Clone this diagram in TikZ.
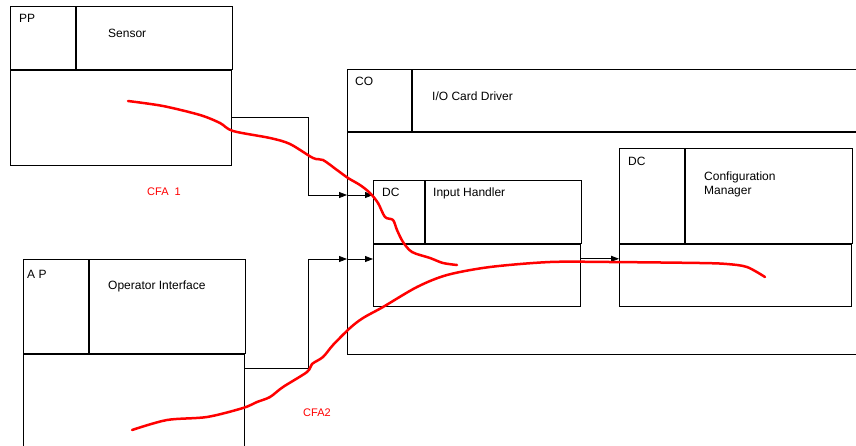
\documentclass[tikz,border=0pt]{standalone}
\usepackage{fontspec}
\setmainfont{Liberation Sans}
\usetikzlibrary{arrows.meta,positioning}

\tikzset{
  cell/.style={draw, line width=0.8pt, inner sep=0pt, anchor=north west},
  tag/.style={anchor=base west, inner sep=0pt, font=\fontsize{12}{14}\selectfont},
  cfa/.style={anchor=base west, inner sep=0pt, text=red, font=\fontsize{11}{13}\selectfont},
  flow/.style={line width=0.8pt, -{Triangle[length=8pt,width=6pt]}},
  trace/.style={red, line width=2.5pt, line cap=round, line join=round}
}

\begin{document}
\begin{tikzpicture}[x=1pt, y=-1pt]
  \useasboundingbox[fill=white] (0,0) rectangle (856,445);

  % PP -- Sensor
  \node[cell, minimum width=65pt, minimum height=63pt] (pp-id) at (10,6) {};
  \node[cell, minimum width=156pt, minimum height=63pt] (pp-name) at (pp-id.north east) {};
  \node[cell, minimum width=221pt, minimum height=95pt] (pp-body) at (pp-id.south west) {};
  \node[tag] (pp-tag) at (19,22.6) {PP};
  \node[tag] (pp-txt) at (108,37.6) {Sensor};

  % AP -- Operator Interface
  \node[cell, minimum width=65pt, minimum height=94pt] (ap-id) at (23,259) {};
  \node[cell, minimum width=156pt, minimum height=94pt] (ap-name) at (ap-id.north east) {};
  \node[cell, minimum width=221pt, minimum height=100pt] (ap-body) at (ap-id.south west) {};
  \node[tag] (ap-tag) at (27,278.6) {A P};
  \node[tag] (ap-txt) at (108,289.6) {Operator Interface};

  % CO -- I/O Card Driver
  \node[cell, minimum width=64pt, minimum height=62pt] (co-id) at (347,69) {};
  \node[cell, minimum width=460pt, minimum height=62pt] (co-name) at (co-id.north east) {};
  \node[cell, minimum width=524pt, minimum height=222pt] (co-body) at (co-id.south west) {};
  \node[tag] (co-tag) at (355,85.6) {CO};
  \node[tag] (co-txt) at (432,100.6) {I/O Card Driver};

  % DC -- Input Handler
  \node[cell, minimum width=51pt, minimum height=63pt] (ih-id) at (373,180) {};
  \node[cell, minimum width=156pt, minimum height=63pt] (ih-name) at (ih-id.north east) {};
  \node[cell, minimum width=207pt, minimum height=62pt] (ih-body) at (ih-id.south west) {};
  \node[tag] (ih-tag) at (382,196.6) {DC};
  \node[tag] (ih-txt) at (433,196.6) {Input Handler};

  % DC -- Configuration Manager
  \node[cell, minimum width=65pt, minimum height=95pt] (cm-id) at (619,148) {};
  \node[cell, minimum width=167pt, minimum height=95pt] (cm-name) at (cm-id.north east) {};
  \node[cell, minimum width=232pt, minimum height=62pt] (cm-body) at (cm-id.south west) {};
  \node[tag] (cm-tag) at (628,165.6) {DC};
  \node[tag, align=left] (cm-txt) at (704,194.6) {Configuration\\Manager};

  % connectors
  \coordinate (j1) at (308,195);
  \coordinate (j2) at (308,259);
  \draw[flow] (pp-body.east) -| (j1) -- (j1 -| co-body.west);
  \draw[flow] (j1 -| co-body.west) -- (j1 -| ih-id.west);
  \draw[flow] ([yshift=-15pt]ap-body.north east) -| (j2) -- (j2 -| co-body.west);
  \draw[flow] (j2 -| co-body.west) -- (j2 -| ih-body.west);
  \draw[flow] ([yshift=-15pt]ih-body.north east) coordinate (j3) -- (j3 -| cm-body.west);

  % flow traces
  \draw[trace] plot[smooth, tension=0.5] coordinates {(128,101) (163,106) (200,115) (220,123) (233,131) (270,138) (290,144) (313,158) (323,160) (337,170) (348,178) (360,185) (370,193) (378,203) (385,217) (393,220) (397,230) (403,242) (412,252) (430,258) (443,263) (457,265)};
  \draw[trace] plot[smooth, tension=0.5] coordinates {(132,430) (167,420) (207,417) (243,408) (257,402) (270,397) (283,387) (307,372) (312,364) (323,357) (333,345) (350,328) (363,318) (383,307) (417,287) (447,275) (490,267) (550,262) (610,262) (700,263) (727,264) (747,267) (765,277)};

  \node[cfa] (cfa1) at (147,195) {CFA\ \ 1};
  \node[cfa] (cfa2) at (303,416) {CFA2};
\end{tikzpicture}
\end{document}
